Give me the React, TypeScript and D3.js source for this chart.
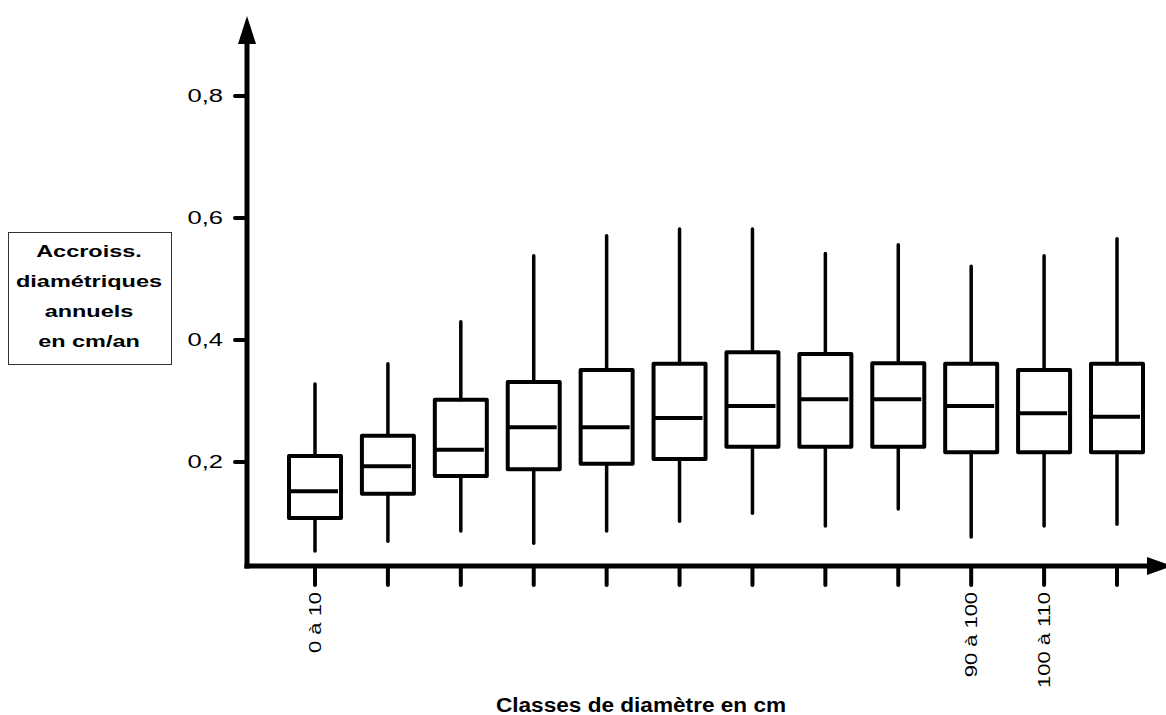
import React, { useRef, useEffect } from 'react';
import * as d3 from 'd3';

// diameter classes (cm)
const classes = ['0 à 10', '10 à 20', '20 à 30', '30 à 40', '40 à 50', '50 à 60',
  '60 à 70', '70 à 80', '80 à 90', '90 à 100', '100 à 110', '110 à 120'];
// only these labels are printed under the axis
const shownLabels = ['0 à 10', '90 à 100', '100 à 110'];

// box plot stats, cm/an
const whiskerLow = [0.054, 0.070, 0.087, 0.067, 0.087, 0.103, 0.116, 0.095, 0.123, 0.077, 0.095, 0.098];
const q1 = [0.108, 0.148, 0.177, 0.188, 0.197, 0.205, 0.225, 0.225, 0.225, 0.216, 0.216, 0.216];
const median = [0.152, 0.193, 0.220, 0.257, 0.257, 0.272, 0.292, 0.303, 0.303, 0.292, 0.280, 0.274];
const q3 = [0.210, 0.243, 0.302, 0.331, 0.351, 0.361, 0.380, 0.377, 0.362, 0.361, 0.351, 0.361];
const whiskerHigh = [0.328, 0.361, 0.430, 0.538, 0.571, 0.582, 0.582, 0.542, 0.556, 0.521, 0.538, 0.566];

const yTicks = [0.2, 0.4, 0.6, 0.8];
const yLabelLines = ['Accroiss.', 'diamétriques', 'annuels', 'en cm/an'];

// the original picture has its text stretched sideways
function stretch(sel, factor) {
  sel.each(function () {
    const len = this.getComputedTextLength();
    d3.select(this).attr('textLength', len * factor).attr('lengthAdjust', 'spacingAndGlyphs');
  });
}

function App() {
  const svgRef = useRef(null);

  useEffect(() => {
    const svg = d3.select(svgRef.current);
    svg.selectAll('*').remove();

    const originX = 247;
    const originY = 566;

    const y = d3.scaleLinear().domain([0, 0.8]).range([584, 96]);
    const x = d3.scalePoint().domain(classes).range([315, 1117]);
    const boxW = 52;
    const font = 'Arial, "Liberation Sans", sans-serif';

    // axes
    svg.append('line')
      .attr('x1', originX).attr('x2', originX)
      .attr('y1', originY + 2.5).attr('y2', 40)
      .attr('stroke', '#000').attr('stroke-width', 5);
    svg.append('path')
      .attr('d', `M${originX - 9},44 L${originX},16 L${originX + 9},44 Z`)
      .attr('fill', '#000');

    svg.append('line')
      .attr('x1', originX - 2.5).attr('x2', 1150)
      .attr('y1', originY).attr('y2', originY)
      .attr('stroke', '#000').attr('stroke-width', 5);
    svg.append('path')
      .attr('d', `M1147,${originY - 9} L1172,${originY} L1147,${originY + 9} Z`)
      .attr('fill', '#000');

    // y ticks
    const yt = svg.append('g');
    yt.selectAll('line').data(yTicks).join('line')
      .attr('x1', originX - 12).attr('x2', originX)
      .attr('y1', d => y(d)).attr('y2', d => y(d))
      .attr('stroke', '#000').attr('stroke-width', 4).attr('stroke-linecap', 'round');
    yt.selectAll('text').data(yTicks).join('text')
      .attr('x', 223).attr('y', d => y(d)).attr('dy', '0.36em')
      .attr('text-anchor', 'end')
      .style('font-family', font).style('font-size', '18px')
      .text(d => d3.format('.1f')(d).replace('.', ','))
      .call(stretch, 1.42);

    // x ticks
    const xt = svg.append('g');
    xt.selectAll('line').data(classes).join('line')
      .attr('x1', d => x(d)).attr('x2', d => x(d))
      .attr('y1', originY).attr('y2', 585)
      .attr('stroke', '#000').attr('stroke-width', 4).attr('stroke-linecap', 'round');
    xt.selectAll('text').data(shownLabels).join('text')
      .attr('transform', d => `translate(${x(d)},592) rotate(-90)`)
      .attr('dy', '0.36em')
      .attr('text-anchor', 'end')
      .style('font-family', font).style('font-size', '16px')
      .text(d => d)
      .call(stretch, 1.37);

    // boxes
    const g = svg.append('g');
    classes.forEach((c, i) => {
      const cx = x(c);
      g.append('line')
        .attr('x1', cx).attr('x2', cx)
        .attr('y1', y(whiskerHigh[i])).attr('y2', y(q3[i]))
        .attr('stroke', '#000').attr('stroke-width', 3.5).attr('stroke-linecap', 'round');
      g.append('line')
        .attr('x1', cx).attr('x2', cx)
        .attr('y1', y(q1[i])).attr('y2', y(whiskerLow[i]))
        .attr('stroke', '#000').attr('stroke-width', 3.5).attr('stroke-linecap', 'round');
      g.append('rect')
        .attr('x', cx - boxW / 2).attr('width', boxW)
        .attr('y', y(q3[i])).attr('height', y(q1[i]) - y(q3[i]))
        .attr('fill', 'none').attr('stroke', '#000').attr('stroke-width', 4)
        .attr('stroke-linejoin', 'round');
      g.append('line')
        .attr('x1', cx - boxW / 2).attr('x2', cx + boxW / 2 - 3)
        .attr('y1', y(median[i])).attr('y2', y(median[i]))
        .attr('stroke', '#000').attr('stroke-width', 4);
    });

    // y label box
    svg.append('rect')
      .attr('x', 8.5).attr('y', 232.5).attr('width', 163).attr('height', 132)
      .attr('fill', 'none').attr('stroke', '#333').attr('stroke-width', 1);
    svg.append('g').selectAll('text').data(yLabelLines).join('text')
      .attr('x', 89).attr('y', (d, i) => 251 + i * 30).attr('dy', '0.36em')
      .attr('text-anchor', 'middle')
      .style('font-family', font).style('font-size', '17px').style('font-weight', 'bold')
      .text(d => d)
      .call(stretch, 1.38);

    // x title
    svg.append('text')
      .attr('x', 641).attr('y', 705).attr('dy', '0.36em')
      .attr('text-anchor', 'middle')
      .style('font-family', font).style('font-size', '20px').style('font-weight', 'bold')
      .text('Classes de diamètre en cm')
      .call(stretch, 1.13);
  }, []);

  return (
    <svg ref={svgRef} width={1166} height={715}
      style={{ position: 'absolute', left: 0, top: 0, background: '#fff' }} />
  );
}

export default App;
